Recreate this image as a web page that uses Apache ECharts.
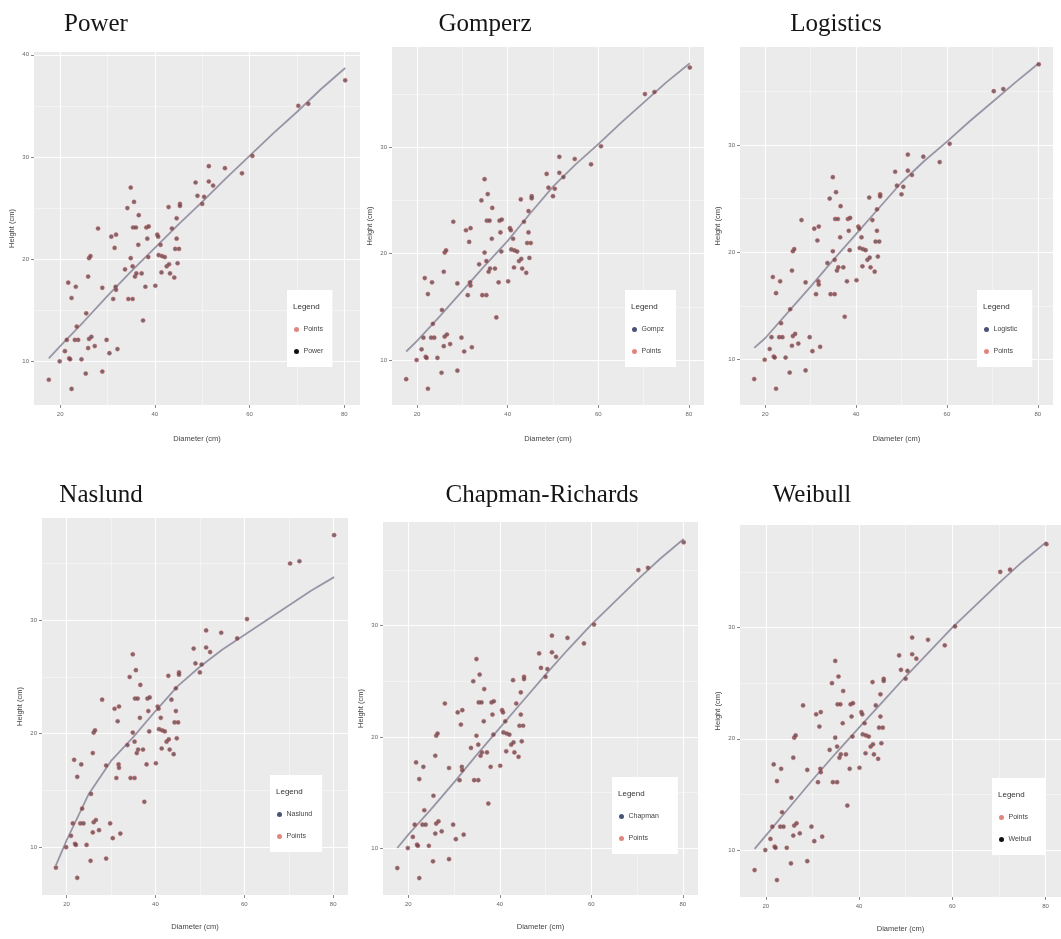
<!DOCTYPE html>
<html>
<head>
<meta charset="utf-8">
<script src="https://cdn.jsdelivr.net/npm/echarts@6/dist/echarts.min.js"></script>
<style>
  html, body { margin: 0; padding: 0; background: #ffffff; }
  #chart { width: 1061px; height: 939px; }
</style>
</head>
<body>
<div id="chart"></div>
<script>
// ---- data ----
const diameter = [17.6,19.9,22.4,21.0,21.9,22.1,21.4,23.1,23.8,24.5,25.4,25.9,26.1,26.6,27.3,28.9,29.8,30.4,32.1,23.5,
  25.5,21.7,22.4,23.3,25.9,26.1,26.4,28.0,28.9,30.8,31.8,31.5,31.2,31.7,31.8,33.7,34.2,34.4,35.3,34.9,
  34.9,35.4,36.0,35.6,35.3,35.8,36.1,36.5,36.6,37.2,37.5,38.0,38.2,38.4,38.6,38.7,40.1,40.5,40.7,40.8,
  41.2,41.4,41.5,42.1,42.5,42.9,43.0,43.2,43.6,44.1,44.3,44.6,44.6,44.8,45.1,45.3,45.3,48.6,49.0,50.0,
  50.4,51.4,51.4,52.3,54.8,58.4,60.6,70.3,72.4,80.2];
const height = [8.2,10.0,7.3,11.0,10.3,10.2,12.1,12.1,12.1,10.2,8.8,11.3,12.2,12.4,11.5,9.0,12.1,10.8,11.2,13.4,
  14.7,17.7,16.2,17.3,18.3,20.1,20.3,23.0,17.2,22.2,22.4,21.1,16.1,17.3,17.0,19.0,25.0,16.1,16.1,27.0,
  20.1,23.1,23.1,25.6,19.3,18.3,18.6,21.4,24.3,18.6,14.0,17.3,23.1,22.0,20.2,23.2,17.4,22.4,22.2,20.4,
  21.4,18.7,20.3,20.2,19.3,25.1,19.5,18.6,23.0,18.2,21.0,24.0,22.0,19.6,21.0,25.4,25.2,27.5,26.2,25.4,
  26.1,29.1,27.6,27.2,28.9,28.4,30.1,35.0,35.2,37.5];

const curveD      = [17.6, 20, 25, 30, 35, 40, 45, 50, 55, 60, 65, 70, 75, 80.2];
const powerH      = [10.3, 11.5, 13.9, 16.4, 18.8, 21.1, 23.4, 25.6, 27.9, 30.1, 32.3, 34.4, 36.6, 38.7];
const gomperzH    = [10.8, 11.8, 14.1, 16.5, 18.9, 21.2, 23.8, 26.3, 28.4, 30.3, 32.3, 34.2, 36.1, 37.9];
const logisticsH  = [11.1, 12.0, 14.4, 16.8, 19.3, 21.7, 24.1, 26.5, 28.5, 30.3, 32.2, 34.0, 35.8, 37.6];
const naslundH    = [8.4, 10.6, 14.7, 17.6, 19.7, 22.0, 24.2, 25.9, 27.4, 28.7, 30.0, 31.3, 32.6, 33.8];
const chapmanH    = [10.0, 11.2, 13.5, 15.9, 18.4, 20.8, 23.2, 25.6, 27.9, 30.1, 32.1, 34.1, 36.0, 37.8];
const weibullH    = [10.1, 11.3, 13.8, 16.3, 18.7, 21.0, 23.3, 25.6, 27.8, 30.0, 32.0, 34.0, 35.9, 37.7];

const panelTitles = ['Power', 'Gomperz', 'Logistics', 'Naslund', 'Chapman-Richards', 'Weibull'];
const modelNames  = ['Power', 'Gompz', 'Logistic', 'Naslund', 'Chapman', 'Weibull'];
const legendOrder = [['Points','Power'], ['Gompz','Points'], ['Logistic','Points'],
                     ['Naslund','Points'], ['Chapman','Points'], ['Points','Weibull']];
const xTicks = [20, 40, 60, 80];
const xMinor = [30, 50, 70];
const yTicksPower = [10, 20, 30, 40];
const yTicksOther = [10, 20, 30];
const yMinor = [15, 25, 35];

// ---- layout (pixels) ----
const grids = [
  {left: 34,  top: 52,  width: 326, height: 353},
  {left: 392, top: 47,  width: 312, height: 358},
  {left: 740, top: 47,  width: 313, height: 358},
  {left: 42,  top: 518, width: 306, height: 377},
  {left: 383, top: 522, width: 315, height: 373},
  {left: 740, top: 525, width: 334, height: 372}
];
const titlePos = [[96, 24], [485, 24], [836, 24], [101, 495], [542, 495], [812, 495]];
const legendBox = [
  {x: 287, y: 290, w: 45, h: 80},
  {x: 625, y: 290, w: 48, h: 80},
  {x: 977, y: 290, w: 51, h: 80},
  {x: 270, y: 775, w: 46, h: 82},
  {x: 612, y: 777, w: 55, h: 80},
  {x: 992, y: 778, w: 50, h: 82}
];
const modelKeyColor = ['#111111', '#4a5478', '#4a5478', '#4a5478', '#4a5478', '#111111'];

const curves = [powerH, gomperzH, logisticsH, naslundH, chapmanH, weibullH];

const pointData = diameter.map((d, i) => [d, height[i]]);
const xLo = Math.min(...diameter), xHi = Math.max(...diameter);
const xPad = (xHi - xLo) * 0.05;

const grid = [], xAxis = [], yAxis = [], series = [], legend = [], graphic = [];

function gridLines(yMaj, yMin) {
  const out = [];
  const maj = {color: 'rgba(255,255,255,0.95)', width: 1.1, type: 'solid'};
  const mnr = {color: 'rgba(255,255,255,0.7)', width: 0.6, type: 'solid'};
  yMin.forEach(v => out.push({yAxis: v, lineStyle: mnr}));
  xMinor.forEach(v => out.push({xAxis: v, lineStyle: mnr}));
  yMaj.forEach(v => out.push({yAxis: v, lineStyle: maj}));
  xTicks.forEach(v => out.push({xAxis: v, lineStyle: maj}));
  return out;
}

for (let i = 0; i < 6; i++) {
  const g = grids[i];
  grid.push(Object.assign({show: true, backgroundColor: '#EBEBEB', borderWidth: 0}, g));
  const c = curves[i];
  const lo = Math.min(...height, ...c), hi = Math.max(...height, ...c);
  const pad = (hi - lo) * 0.05;
  const yMin = lo - pad, yMax = hi + pad;
  const yMaj = (i === 0 ? yTicksPower : yTicksOther).filter(v => v >= yMin && v <= yMax);
  const yMn = yMinor.filter(v => v >= yMin && v <= yMax);

  xAxis.push({
    type: 'value', gridIndex: i, min: xLo - xPad, max: xHi + xPad,
    name: 'Diameter (cm)', nameLocation: 'middle', nameGap: i < 3 ? 30 : 28,
    nameTextStyle: {fontSize: 7.5, color: '#444', fontFamily: 'Liberation Sans'},
    axisLine: {show: false},
    axisTick: {show: true, length: 3, lineStyle: {color: '#888', width: 1}, customValues: xTicks},
    axisLabel: {fontSize: 6, color: '#666', margin: 6, customValues: xTicks, fontFamily: 'Liberation Sans'},
    splitLine: {show: false}
  });
  yAxis.push({
    type: 'value', gridIndex: i, min: yMin, max: yMax,
    name: 'Height (cm)', nameLocation: 'middle', nameGap: 18, nameRotate: 90,
    nameTextStyle: {fontSize: 7.5, color: '#444', fontFamily: 'Liberation Sans'},
    axisLine: {show: false},
    axisTick: {show: true, length: 3, lineStyle: {color: '#888', width: 1}, customValues: yMaj},
    axisLabel: {fontSize: 6, color: '#666', margin: 5, customValues: yMaj, fontFamily: 'Liberation Sans'},
    splitLine: {show: false}
  });

  series.push({
    name: 'Points', type: 'scatter', xAxisIndex: i, yAxisIndex: i, z: 4,
    data: pointData, symbolSize: 4.2,
    itemStyle: {color: '#5a4850', borderColor: 'rgba(222,90,90,0.55)', borderWidth: 1},
    markLine: {silent: true, z: 1, symbol: ['none', 'none'], label: {show: false},
               animation: false, data: gridLines(yMaj, yMn)}
  });
  series.push({
    name: modelNames[i], type: 'line', xAxisIndex: i, yAxisIndex: i, z: 3,
    data: curveD.map((d, k) => [d, c[k]]), showSymbol: false, smooth: false,
    lineStyle: {color: '#9896a6', width: 1.8},
    itemStyle: {color: modelKeyColor[i]}
  });

  const lb = legendBox[i];
  legend.push({
    left: lb.x, top: lb.y, orient: 'vertical', backgroundColor: '#ffffff',
    borderWidth: 0, padding: [36, lb.w - 36, 12, 7], itemGap: 15,
    itemWidth: 8, itemHeight: 5, selectedMode: false,
    textStyle: {fontSize: 7, color: '#444', fontFamily: 'Liberation Sans', padding: [0, 0, 0, -2]},
    data: legendOrder[i].map(n => n === 'Points'
      ? {name: n, icon: 'circle', itemStyle: {color: '#d9665f', borderWidth: 0}}
      : {name: n, icon: 'circle', itemStyle: {color: modelKeyColor[i], borderWidth: 0}})
  });
  graphic.push({
    type: 'text', x: lb.x + 6, y: lb.y + 17, z: 100,
    style: {text: 'Legend', fontSize: 8, fill: '#333', fontFamily: 'Liberation Sans',
            align: 'left', verticalAlign: 'middle'}
  });
  graphic.push({
    type: 'text', x: titlePos[i][0], y: titlePos[i][1], z: 100,
    style: {text: panelTitles[i], fontSize: 25, fill: '#151515', fontFamily: 'Liberation Serif',
            align: 'center', verticalAlign: 'middle'}
  });
}

const chart = echarts.init(document.getElementById('chart'), null, {renderer: 'canvas'});
chart.setOption({
  animation: false,
  backgroundColor: '#ffffff',
  grid, xAxis, yAxis, series, legend, graphic
});
</script>
</body>
</html>
